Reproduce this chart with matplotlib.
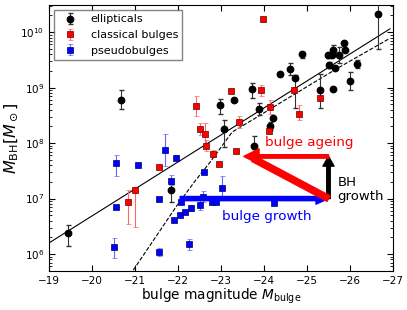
import matplotlib
matplotlib.use("Agg")
import matplotlib.pyplot as plt
import numpy as np

# ellipticals: magnitude, log10 M_BH, lower / upper error (dex)
mag_ell = [-19.44, -20.68, -21.84, -22.97, -23.31, -23.06, -23.72, -23.88, -24.38, -24.60,
           -24.73, -24.89, -25.30, -25.60, -26.65, -25.49, -25.57, -25.60, -25.86, -25.88,
           -25.75, -25.51, -25.66, -26.16, -26.00, -23.76, -24.21, -24.13]
logm_ell = [6.38, 8.77, 7.15, 8.68, 8.77, 8.25, 8.98, 8.62, 9.24, 9.33,
            9.18, 9.60, 8.96, 8.97, 10.32, 9.58, 9.58, 9.68, 9.80, 9.68,
            9.58, 9.41, 9.36, 9.42, 9.12, 7.95, 8.45, 8.31]
elo_ell = [0.24, 0.16, 0.21, 0.16, 0.0, 0.32, 0.16, 0.11, 0.0, 0.10,
           0.55, 0.07, 0.32, 0.0, 0.63, 0.05, 0.0, 0.08, 0.0, 0.0,
           0.14, 0.05, 0.0, 0.07, 0.16, 0.05, 0.0, 0.07]
ehi_ell = [0.14, 0.18, 0.12, 0.12, 0.0, 0.16, 0.11, 0.10, 0.0, 0.11,
           0.05, 0.05, 0.28, 0.0, 0.25, 0.05, 0.0, 0.08, 0.0, 0.0,
           0.16, 0.05, 0.0, 0.07, 0.16, 0.18, 0.0, 0.07]

# classical bulges
mag_cla = [-20.83, -20.99, -21.55, -22.42, -22.52, -22.62, -22.65, -22.81, -22.95, -23.34,
           -23.41, -23.24, -23.92, -24.15, -24.11, -23.98, -24.69, -24.81, -25.30]
logm_cla = [6.94, 7.16, 7.57, 8.67, 8.25, 8.16, 7.95, 7.81, 7.62, 7.86,
            8.38, 8.94, 8.95, 8.65, 8.22, 10.23, 8.96, 8.52, 8.82]
elo_cla = [0.39, 0.67, 0.0, 0.18, 0.10, 0.20, 0.10, 0.06, 0.0, 0.0,
           0.10, 0.0, 0.10, 0.12, 0.0, 0.05, 0.0, 0.10, 0.0]
ehi_cla = [0.21, 0.05, 0.0, 0.18, 0.12, 0.20, 0.10, 0.06, 0.0, 0.0,
           0.10, 0.0, 0.10, 0.12, 0.0, 0.05, 0.0, 0.16, 0.0]

# pseudobulges
mag_pse = [-20.50, -20.56, -20.56, -21.06, -21.55, -21.56, -21.70, -21.84, -21.96, -21.90,
           -22.05, -22.17, -22.30, -22.50, -22.08, -22.25, -22.57, -22.60, -23.02, -22.79,
           -22.88, -24.24]
logm_pse = [6.12, 6.85, 7.64, 7.60, 7.00, 6.04, 7.87, 7.32, 7.74, 6.62,
            6.70, 6.76, 6.83, 6.89, 6.94, 6.18, 7.03, 7.48, 7.19, 6.94,
            6.93, 6.92]
elo_pse = [0.19, 0.0, 0.23, 0.0, 0.0, 0.07, 0.28, 0.08, 0.05, 0.0,
           0.0, 0.0, 0.05, 0.10, 0.0, 0.10, 0.10, 0.0, 0.22, 0.0,
           0.0, 0.0]
ehi_pse = [0.17, 0.0, 0.14, 0.0, 0.0, 0.07, 0.30, 0.10, 0.05, 0.0,
           0.0, 0.0, 0.05, 0.10, 0.0, 0.10, 0.10, 0.0, 0.22, 0.0,
           0.0, 0.0]

# fit lines
fit_mag = [-19.0, -26.93]
fit_logm = [6.20, 10.06]
curve_mag = [-20.96, -21.5, -21.98, -22.4, -22.75, -23.26, -23.84, -24.6, -25.71, -26.93]
curve_logm = [5.71, 6.33, 6.88, 7.32, 7.66, 8.20, 8.47, 8.83, 9.35, 9.89]


def to_err(logm, elo, ehi):
    logm = np.array(logm)
    y = 10 ** logm
    lo = y - 10 ** (logm - np.array(elo))
    hi = 10 ** (logm + np.array(ehi)) - y
    return y, [lo, hi]


fig = plt.figure(figsize=(4.07, 3.10), dpi=100)
ax = fig.add_axes([0.1204, 0.1268, 0.8452, 0.8571])

ax.plot(fit_mag, 10 ** np.array(fit_logm), 'k-', lw=0.8)
ax.plot(curve_mag, 10 ** np.array(curve_logm), 'k--', lw=0.8)

y, err = to_err(logm_ell, elo_ell, ehi_ell)
ax.errorbar(mag_ell, y, yerr=err, fmt='o', color='k', mec='k', ms=4.6,
            ecolor='#333333', elinewidth=0.8, capsize=1.8, label='ellipticals', zorder=4)
y, err = to_err(logm_cla, elo_cla, ehi_cla)
ax.errorbar(mag_cla, y, yerr=err, fmt='s', color='r', mec='#660000', mew=0.5, ms=4.4,
            ecolor='#ff6666', elinewidth=0.8, capsize=1.8, label='classical bulges', zorder=4)
y, err = to_err(logm_pse, elo_pse, ehi_pse)
ax.errorbar(mag_pse, y, yerr=err, fmt='s', color='b', mec='#000066', mew=0.5, ms=4.4,
            ecolor='#6666ff', elinewidth=0.8, capsize=1.8, label='pseudobulges', zorder=4)

# arrows
ax.annotate('', xy=(-25.5, 1e7), xytext=(-22.05, 1e7),
            arrowprops=dict(facecolor='b', edgecolor='b', width=3, headwidth=8, headlength=9),
            zorder=5)
ax.annotate('', xy=(-25.5, 10 ** 7.76), xytext=(-25.5, 1e7),
            arrowprops=dict(facecolor='k', edgecolor='k', width=2.5, headwidth=8, headlength=7),
            zorder=5)
ax.annotate('', xy=(-23.53, 10 ** 7.76), xytext=(-25.5, 10 ** 7.76),
            arrowprops=dict(facecolor='r', edgecolor='r', width=2.5, headwidth=11, headlength=11),
            zorder=5)
ax.annotate('', xy=(-23.75, 10 ** 7.72), xytext=(-25.5, 1e7),
            arrowprops=dict(facecolor='r', edgecolor='r', width=4.5, headwidth=4.5, headlength=0.1),
            zorder=5)

ax.text(-24.03, 10 ** 8.02, 'bulge ageing', color='r', fontsize=9.7, va='center', ha='left')
ax.text(-23.02, 10 ** 6.67, 'bulge growth', color='b', fontsize=9.7, va='center', ha='left')
ax.text(-25.71, 10 ** 7.17, 'BH\ngrowth', color='k', fontsize=9.5, va='center', ha='left',
        linespacing=1.1)

ax.set_yscale('log')
ax.set_xlim(-19, -27)
ax.set_ylim(10 ** 5.70, 10 ** 10.49)
ax.set_xticks(np.arange(-19, -28, -1))
ax.tick_params(which='both', direction='in', top=True, right=True, labelsize=7.5)
ax.tick_params(which='major', length=4, pad=3.5)
ax.tick_params(which='minor', length=2)
ax.set_xlabel(r'bulge magnitude $M_{\rm bulge}$', fontsize=9.8, labelpad=1)
ax.set_ylabel(r'$M_{\rm BH}[M_\odot]$', fontsize=11.5, labelpad=0)

leg = ax.legend(loc='upper left', fontsize=8.0, numpoints=1, fancybox=False,
                borderaxespad=0.45, handletextpad=0.9, labelspacing=0.5)
leg.get_frame().set_edgecolor('#666666')
leg.get_frame().set_linewidth(1.0)

fig.savefig('out.png', dpi=100)
